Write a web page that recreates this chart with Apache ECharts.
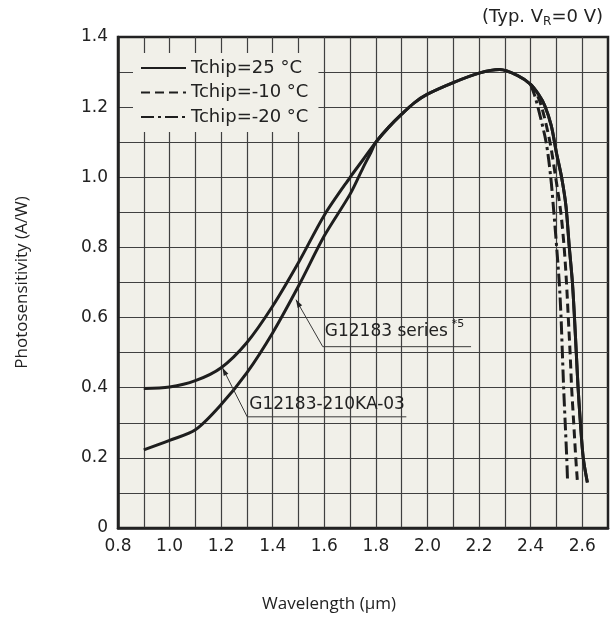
<!DOCTYPE html>
<html>
<head>
<meta charset="utf-8">
<script src="https://cdn.jsdelivr.net/npm/echarts@6/dist/echarts.min.js"></script>
<style>
html,body{margin:0;padding:0;background:#fff;}
#c{width:611px;height:626px;}
</style>
</head>
<body>
<div id="c"></div>
<script>
// ---- data ----
const legendNames = ['Tchip=25 °C', 'Tchip=-10 °C', 'Tchip=-20 °C'];
const xRange = [0.8, 2.7];
const yRange = [0, 1.4];
// G12183 series, 25 °C, short-wavelength part
const seriesLeft25 = [[0.9,0.223],[1.0,0.25],[1.1,0.28],[1.2,0.352],[1.3,0.443],[1.4,0.557],[1.5,0.69],[1.6,0.833],[1.7,0.952],[1.75,1.027],[1.78,1.07]];
// G12183-210KA-03, 25 °C, short-wavelength part
const ka03Left25 = [[0.9,0.398],[1.0,0.402],[1.1,0.42],[1.2,0.457],[1.3,0.529],[1.4,0.633],[1.5,0.757],[1.6,0.892],[1.7,1.0],[1.75,1.05]];
// shared 25 °C part after the curves meet
const tail25 = [[1.8,1.1],[1.85,1.143],[1.9,1.18],[1.95,1.213],[2.0,1.237],[2.1,1.27],[2.2,1.297],[2.28,1.307],[2.35,1.29],[2.4,1.265],[2.43,1.237],[2.455,1.204],[2.48,1.147],[2.5,1.07],[2.52,1.0],[2.537,0.918],[2.55,0.8],[2.562,0.7],[2.57,0.6],[2.577,0.5],[2.584,0.4],[2.593,0.3],[2.604,0.2],[2.62,0.13]];
// -10 °C cutoff
const tailMinus10 = [[2.4,1.265],[2.425,1.235],[2.445,1.195],[2.475,1.1],[2.497,1.0],[2.517,0.9],[2.53,0.8],[2.539,0.7],[2.546,0.6],[2.553,0.5],[2.559,0.4],[2.567,0.3],[2.575,0.2],[2.581,0.137]];
// -20 °C cutoff
const tailMinus20 = [[2.4,1.265],[2.415,1.235],[2.43,1.195],[2.46,1.1],[2.478,1.0],[2.49,0.9],[2.501,0.8],[2.511,0.7],[2.518,0.6],[2.523,0.5],[2.528,0.4],[2.534,0.3],[2.54,0.2],[2.543,0.137]];
// annotations: label, superscript, arrow tip, leader corner, underline end (data coords)
const annotationLabels = ['G12183 series', 'G12183-210KA-03'];
const annotationSup = ['*5', ''];
const annotationTip = [[1.49,0.651],[1.205,0.457]];
const annotationCorner = [[1.594,0.517],[1.301,0.317]];
const annotationEnd = [[2.169,0.517],[1.918,0.317]];

const FONT = 'DejaVu Sans';
const TXT = '#222';
const BG = '#f1f0e9';
const lw = 3;

const chart = echarts.init(document.getElementById('c'));
const option = {
  backgroundColor: '#ffffff',
  animation: false,
  title: {
    text: '{a|(Typ. V}{s|R}{a|=0 V)}',
    right: 3, top: 1,
    textStyle: {
      fontWeight: 'normal',
      rich: {
        a: {fontFamily: FONT, fontSize: 18, fontWeight: 'normal', color: TXT, lineHeight: 22},
        s: {fontFamily: FONT, fontSize: 12, fontWeight: 'normal', color: TXT, lineHeight: 18, verticalAlign: 'bottom'}
      }
    }
  },
  legend: {
    data: legendNames,
    orient: 'vertical',
    left: 133, top: 53,
    padding: [5, 10, 5, 7],
    itemWidth: 45, itemHeight: 14, itemGap: 4.5,
    backgroundColor: BG,
    itemStyle: {opacity: 0, borderWidth: 0},
    textStyle: {fontFamily: FONT, fontSize: 18, color: TXT, lineHeight: 20},
    selectedMode: false
  },
  grid: {
    left: 118, right: 1, top: 37, bottom: 98,
    show: true, backgroundColor: BG, borderColor: '#222', borderWidth: 2.5,
    containLabel: false
  },
  xAxis: {
    type: 'value', min: xRange[0], max: xRange[1], interval: 0.1,
    name: 'Wavelength (μm)', nameLocation: 'middle', nameGap: 68,
    nameTextStyle: {fontFamily: 'Open Sans', fontSize: 17, color: TXT, padding: [0, 68, 0, 0]},
    axisLine: {show: true, onZero: false, lineStyle: {color: '#222', width: 2.5}},
    axisTick: {show: false},
    axisLabel: {
      margin: 10, fontFamily: FONT, fontSize: 17, color: TXT, showMaxLabel: true,
      formatter: v => (Math.round(v * 10) % 2 === 0 ? v.toFixed(1) : '')
    },
    splitLine: {show: true, showMinLine: false, showMaxLine: false, lineStyle: {color: '#404040', width: 1.2}}
  },
  yAxis: {
    type: 'value', min: yRange[0], max: yRange[1], interval: 0.1,
    name: 'Photosensitivity (A/W)', nameLocation: 'middle', nameGap: 87,
    nameTextStyle: {fontFamily: 'Open Sans', fontSize: 17, color: TXT},
    axisLine: {show: true, lineStyle: {color: '#222', width: 2.5}},
    axisTick: {show: false},
    axisLabel: {
      margin: 10, fontFamily: FONT, fontSize: 17, color: TXT,
      formatter: v => {
        const k = Math.round(v * 10);
        if (k % 2 !== 0) return '';
        return k === 0 ? '0' : v.toFixed(1);
      }
    },
    splitLine: {show: true, showMinLine: false, showMaxLine: false, lineStyle: {color: '#404040', width: 1.2}}
  },
  series: [
    {name: legendNames[0], type: 'line', data: seriesLeft25.concat(tail25), symbol: 'none', smooth: 0.3,
     lineStyle: {color: '#1e1e1e', width: lw}, itemStyle: {color: '#1e1e1e'}, z: 5},
    {name: legendNames[0], type: 'line', data: ka03Left25.concat(tail25), symbol: 'none', smooth: 0.3,
     lineStyle: {color: '#1e1e1e', width: lw}, itemStyle: {color: '#1e1e1e'}, z: 5},
    {name: legendNames[1], type: 'line', data: tailMinus10, symbol: 'none', smooth: 0.3,
     lineStyle: {color: '#1e1e1e', width: lw, type: [9, 5]}, itemStyle: {color: '#1e1e1e'}, z: 4},
    {name: legendNames[2], type: 'line', data: tailMinus20, symbol: 'none', smooth: 0.3,
     lineStyle: {color: '#1e1e1e', width: lw, type: [13, 4, 3, 4]}, itemStyle: {color: '#1e1e1e'}, z: 4}
  ]
};
chart.setOption(option);

// annotations positioned from data coordinates
const px = p => chart.convertToPixel({gridIndex: 0}, p);
const elements = [];
annotationLabels.forEach((label, i) => {
  const tip = px(annotationTip[i]);
  const corner = px(annotationCorner[i]);
  const end = px(annotationEnd[i]);
  elements.push({
    type: 'polyline', z: 100,
    shape: {points: [end, corner, tip]},
    style: {stroke: '#3a3a3a', lineWidth: 1, fill: null}
  });
  const ang = Math.atan2(tip[1] - corner[1], tip[0] - corner[0]);
  const L = 8, W = 2.6;
  const bx = tip[0] - L * Math.cos(ang), by = tip[1] - L * Math.sin(ang);
  const nx = -Math.sin(ang) * W, ny = Math.cos(ang) * W;
  elements.push({
    type: 'polygon', z: 101,
    shape: {points: [tip, [bx + nx, by + ny], [bx - nx, by - ny]]},
    style: {fill: '#222'}
  });
  const sup = annotationSup[i];
  elements.push({
    type: 'text', z: 102,
    x: corner[0] + 2, y: corner[1] - 2,
    style: {
      text: '{m|' + label + '}' + (sup ? '{s|' + sup + '}' : ''),
      rich: {
        m: {fontFamily: FONT, fontSize: 17, fill: TXT, lineHeight: 20},
        s: {fontFamily: FONT, fontSize: 11, fill: TXT, lineHeight: 26, padding: [0, 0, 0, 4], verticalAlign: 'top'}
      },
      align: 'left', verticalAlign: 'bottom'
    }
  });
});
chart.setOption({graphic: {elements: elements}});
</script>
</body>
</html>
